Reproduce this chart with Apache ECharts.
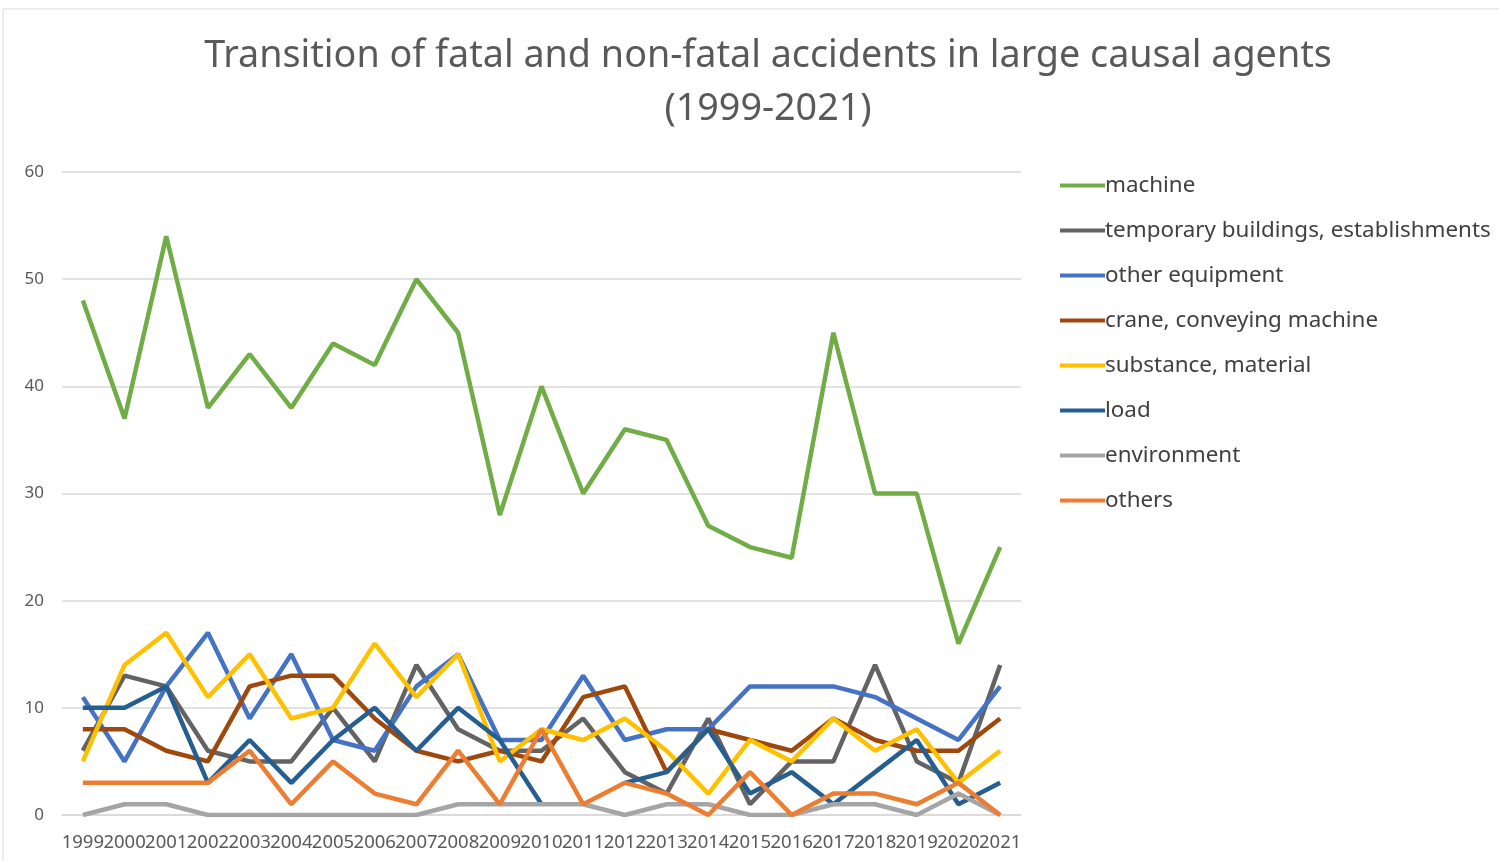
<!DOCTYPE html>
<html><head><meta charset="utf-8">
<script src="https://cdn.jsdelivr.net/npm/echarts@6/dist/echarts.min.js"></script>
<style>html,body{margin:0;padding:0;background:#fff}#c{width:1499px;height:861px}</style>
</head><body><div id="c"></div>
<script>
const years = ['1999','2000','2001','2002','2003','2004','2005','2006','2007','2008','2009','2010','2011','2012','2013','2014','2015','2016','2017','2018','2019','2020','2021'];
const machine = [48,37,54,38,43,38,44,42,50,45,28,40,30,36,35,27,25,24,45,30,30,16,25];
const temporary = [6,13,12,6,5,5,10,5,14,8,6,6,9,4,2,9,1,5,5,14,5,3,14];
const otherEquipment = [11,5,12,17,9,15,7,6,12,15,7,7,13,7,8,8,12,12,12,11,9,7,12];
const crane = [8,8,6,5,12,13,13,9,6,5,6,5,11,12,4,8,7,6,9,7,6,6,9];
const substance = [5,14,17,11,15,9,10,16,11,15,5,8,7,9,6,2,7,5,9,6,8,3,6];
const load = [10,10,12,3,7,3,7,10,6,10,7,1,null,3,4,8,2,4,1,4,7,1,3];
const environment = [0,1,1,0,0,0,0,0,0,1,1,1,1,0,1,1,0,0,1,1,0,2,0];
const others = [3,3,3,3,6,1,5,2,1,6,1,8,1,3,2,0,4,0,2,2,1,3,0];
const yTicks = [0,10,20,30,40,50,60];

const seriesDefs = [
  ['machine', machine, '#70AD47'],
  ['temporary buildings, establishments', temporary, '#636363'],
  ['other equipment', otherEquipment, '#4472C4'],
  ['crane, conveying machine', crane, '#9E480E'],
  ['substance, material', substance, '#FFC000'],
  ['load', load, '#255E91'],
  ['environment', environment, '#A5A5A5'],
  ['others', others, '#ED7D31']
];

const chart = echarts.init(document.getElementById('c'));
chart.setOption({
  animation: false,
  backgroundColor: '#fff',
  graphic: [{type:'rect', shape:{x:3,y:9,width:1500,height:860}, style:{fill:'none', stroke:'#D9D9D9', lineWidth:1}, silent:true}],
  title: {
    text: 'Transition of fatal and non-fatal accidents in large causal agents\n(1999-2021)',
    left: 763, top: 25, textAlign: 'center',
    textStyle: {fontFamily: 'Noto Sans', fontSize: 37.7, fontWeight: 'normal', color: '#595959', lineHeight: 53}
  },
  legend: {
    orient: 'vertical', left: 1055, top: 167,
    itemWidth: 45, itemHeight: 4, itemGap: 18,
    textStyle: {fontFamily: 'Noto Sans', fontSize: 22.4, color: '#404040', padding:[0,0,0,-5], lineHeight: 27},
    data: seriesDefs.map(d => ({name: d[0], icon: 'rect'}))
  },
  grid: {left: 62, right: 478, top: 172, bottom: 46},
  xAxis: {
    type: 'category', data: years, boundaryGap: true,
    axisLine: {lineStyle: {color: '#D9D9D9', width: 1.5}},
    axisTick: {show: false},
    axisLabel: {interval: 0, hideOverlap: false, color: '#595959', fontFamily: 'Noto Sans', fontSize: 18.5, margin: 18}
  },
  yAxis: {
    type: 'value', min: yTicks[0], max: yTicks[yTicks.length-1], interval: 10,
    axisLine: {show: false}, axisTick: {show: false},
    splitLine: {lineStyle: {color: '#D9D9D9', width: 1.5}},
    axisLabel: {color: '#595959', fontFamily: 'Noto Sans', fontSize: 17, margin: 18}
  },
  series: seriesDefs.map(d => ({
    name: d[0], type: 'line', data: d[1], symbol: 'none', connectNulls: false,
    lineStyle: {color: d[2], width: 4.5}, itemStyle: {color: d[2]},
    emphasis: {disabled: true}
  }))
});
</script></body></html>
